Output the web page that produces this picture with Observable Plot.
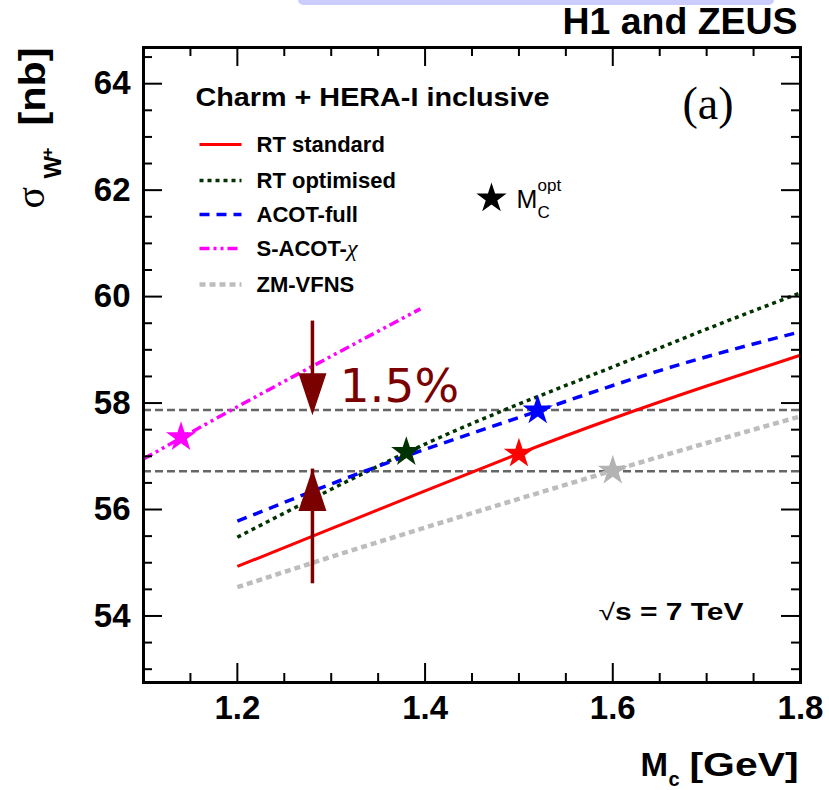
<!DOCTYPE html>
<html><head><meta charset="utf-8">
<script src="https://cdn.jsdelivr.net/npm/d3@7"></script>
<script src="https://cdn.jsdelivr.net/npm/@observablehq/plot@0.6"></script>
<style>
body{margin:0;background:#fff;}
#wrap{position:relative;width:829px;height:790px;overflow:hidden;}
#band{position:absolute;left:298px;top:0;width:476px;height:5px;background:#ccccff;border-radius:0 0 6px 6px;z-index:2;}
</style></head><body>
<div id="wrap"><div id="chart"></div><div id="band"></div></div>
<script>
// ---- data ----
const mcGrid = [1.2, 1.3, 1.4, 1.5, 1.6, 1.7, 1.8];
const rtStandard  = [54.93, 55.64, 56.35, 57.05, 57.71, 58.32, 58.90];
const rtOptimised = [55.48, 56.38, 57.23, 57.98, 58.68, 59.39, 60.07];
const acotFull    = [55.78, 56.48, 57.13, 57.73, 58.33, 58.87, 59.34];
const zmVfns      = [54.54, 55.11, 55.66, 56.20, 56.73, 57.25, 57.75];
const sacotX      = [1.1, 1.2, 1.3, 1.395];
const sacotChi    = [56.95, 57.93, 58.88, 59.77];

const seriesNames = ["RT standard", "RT optimised", "ACOT-full", "S-ACOT-χ", "ZM-VFNS"];
const optMc    = [1.50, 1.38, 1.52, 1.14, 1.60];
const optSigma = [57.05, 57.08, 57.86, 57.36, 56.73];

const bandLines = [57.87, 56.72];
const arrowX = 1.28;
const arrowFrom = [59.54, 54.98];
const arrowTo   = [57.77, 56.76];
const pctLabel = {x: 1.309, y: 58.015, text: "1.5%"};

const xLabels = [1.2, 1.4, 1.6, 1.8];
const xMajor = [1.2, 1.4, 1.6];
const xMinor = [1.15, 1.25, 1.3, 1.35, 1.45, 1.5, 1.55, 1.65, 1.7, 1.75];
const yLabels = [54, 56, 58, 60, 62, 64];
const yMajor = [54, 56, 58, 60, 62, 64];
const yMinor = [53, 53.5, 54.5, 55, 55.5, 56.5, 57, 57.5, 58.5, 59, 59.5, 60.5, 61, 61.5, 62.5, 63, 63.5, 64.5];

// ---- styles ----
const styles = {
  "RT standard":  {color: "#ff0000", width: 3,   dash: null},
  "RT optimised": {color: "#003300", width: 3.5, dash: "4,4"},
  "ACOT-full":    {color: "#0000ff", width: 3.5, dash: "10,7"},
  "S-ACOT-χ":     {color: "#ff00ff", width: 3.5, dash: "10,4,3,4,3,4"},
  "ZM-VFNS":      {color: "#bdbdbd", width: 4.5, dash: "6,4"}
};
const starColors = {"RT standard":"#ff0000","RT optimised":"#003300","ACOT-full":"#0000ff","S-ACOT-χ":"#ff00ff","ZM-VFNS":"#b3b3b3"};
const arrowColor = "#7b0000";

const W = 829, H = 790, mL = 143, mR = 29, mT = 47, mB = 108;
const fw = W - mL - mR, fh = H - mT - mB;
const sans = "Liberation Sans, Arial, Helvetica, sans-serif";
const serif = "Liberation Serif, Times New Roman, serif";

const curves = [
  {name: "RT standard", xs: mcGrid, ys: rtStandard},
  {name: "RT optimised", xs: mcGrid, ys: rtOptimised},
  {name: "ACOT-full", xs: mcGrid, ys: acotFull},
  {name: "S-ACOT-χ", xs: sacotX, ys: sacotChi},
  {name: "ZM-VFNS", xs: mcGrid, ys: zmVfns}
];
const stars = seriesNames.map((n, i) => ({name: n, x: optMc[i], y: optSigma[i]}));
const arrows = arrowFrom.map((f, i) => ({x: arrowX, from: f, to: arrowTo[i]}));

const hline = {draw(ctx) { ctx.moveTo(-21, 0); ctx.lineTo(21, 0); }};
const headDown = {draw(ctx) { ctx.moveTo(0, 0); ctx.lineTo(14, -42); ctx.lineTo(-14, -42); ctx.closePath(); }};
const headUp = {draw(ctx) { ctx.moveTo(0, 0); ctx.lineTo(14, 42); ctx.lineTo(-14, 42); ctx.closePath(); }};

const legendRowsY = [144, 180, 214, 248, 284];

const txt = (s, o) => Plot.text([s], {text: d => d, frameAnchor: "top-left", fill: "black", fontFamily: sans, ...o});

const marks = [
  // horizontal band lines
  Plot.ruleY(bandLines, {y: d => d, stroke: "#666666", strokeWidth: 2.5, strokeDasharray: "8,4"}),
  // curves
  ...curves.map(c => Plot.line(c.xs.map((x, i) => ({x, y: c.ys[i]})), {
    x: d => d.x, y: d => d.y, stroke: styles[c.name].color, strokeWidth: styles[c.name].width,
    strokeDasharray: styles[c.name].dash, strokeLinecap: "butt", strokeLinejoin: "miter", curve: "natural"
  })),
  // optimal mass stars
  Plot.dot(stars, {x: d => d.x, y: d => d.y, symbol: "star", r: 9.5, fill: d => starColors[d.name], stroke: "none"}),
  // arrows
  Plot.ruleX([arrows[0]], {x: d => d.x, y1: d => d.from, y2: d => d.to, stroke: arrowColor, strokeWidth: 3.5, insetBottom: 20}),
  Plot.ruleX([arrows[1]], {x: d => d.x, y1: d => d.from, y2: d => d.to, stroke: arrowColor, strokeWidth: 3.5, insetTop: 20}),
  Plot.dot([arrows[0]], {x: d => d.x, y: d => d.to, symbol: headDown, r: 5, fill: arrowColor, stroke: "none"}),
  Plot.dot([arrows[1]], {x: d => d.x, y: d => d.to, symbol: headUp, r: 5, fill: arrowColor, stroke: "none"}),
  Plot.text([pctLabel], {x: d => d.x, y: d => d.y, text: d => d.text, textAnchor: "start", lineAnchor: "bottom",
    fontSize: 47, fontFamily: "DejaVu Sans, sans-serif", fill: arrowColor}),
  // frame + ticks
  Plot.frame({stroke: "black", strokeWidth: 3}),
  Plot.ruleX(xMajor, {x: d => d, insetTop: fh - 19, stroke: "black", strokeWidth: 2}),
  Plot.ruleX(xMinor, {x: d => d, insetTop: fh - 9, stroke: "black", strokeWidth: 2}),
  Plot.ruleX(xMajor, {x: d => d, insetBottom: fh - 19, stroke: "black", strokeWidth: 2}),
  Plot.ruleX(xMinor, {x: d => d, insetBottom: fh - 9, stroke: "black", strokeWidth: 2}),
  Plot.ruleY(yMajor, {y: d => d, insetRight: fw - 19, stroke: "black", strokeWidth: 2}),
  Plot.ruleY(yMinor, {y: d => d, insetRight: fw - 9, stroke: "black", strokeWidth: 2}),
  Plot.ruleY(yMajor, {y: d => d, insetLeft: fw - 19, stroke: "black", strokeWidth: 2}),
  Plot.ruleY(yMinor, {y: d => d, insetLeft: fw - 9, stroke: "black", strokeWidth: 2}),
  // tick labels
  Plot.axisX({ticks: xLabels, tickSize: 0, tickPadding: 13, tickFormat: d => d.toFixed(1), fontSize: 33, fontWeight: "bold", fill: "black", label: null}),
  Plot.axisY({ticks: yLabels, tickSize: 0, tickPadding: 13, tickFormat: d => String(d), fontSize: 33, fontWeight: "bold", fill: "black", label: null}),
  // texts
  txt("H1 and ZEUS", {dx: 654, dy: -14, textAnchor: "end", lineAnchor: "bottom", fontSize: 36, fontWeight: "bold"}),
  txt("(a)", {dx: 539, dy: 71, textAnchor: "start", lineAnchor: "bottom", fontSize: 46, fontFamily: serif}),
  txt("Charm + HERA-I inclusive", {dx: 52, dy: 58, textAnchor: "start", lineAnchor: "bottom", fontSize: 25, fontWeight: "bold"}),
  txt("√s = 7 TeV", {dx: 455, dy: 572, textAnchor: "start", lineAnchor: "bottom", fontSize: 23, fontWeight: "bold"}),
  // legend
  ...seriesNames.flatMap((n, i) => [
    Plot.dot([n], {frameAnchor: "top-left", dx: 77, dy: legendRowsY[i] - mT, symbol: hline, r: 5, fill: "none",
      stroke: styles[n].color, strokeWidth: styles[n].width, strokeDasharray: styles[n].dash, strokeLinecap: "butt"}),
    txt(n, {dx: 113, dy: legendRowsY[i] - mT, textAnchor: "start", lineAnchor: "middle", fontSize: 22, fontWeight: "bold"})
  ]),
  Plot.dot(["opt"], {frameAnchor: "top-left", dx: 348, dy: 151, symbol: "star", r: 9.5, fill: "black", stroke: "none"}),
  txt("M", {dx: 373, dy: 160, textAnchor: "start", lineAnchor: "bottom", fontSize: 25}),
  txt("C", {dx: 394, dy: 170, textAnchor: "start", lineAnchor: "bottom", fontSize: 17}),
  txt("opt", {dx: 394, dy: 143, textAnchor: "start", lineAnchor: "bottom", fontSize: 17}),
  // axis titles
  txt("M", {dx: 497, dy: 728, textAnchor: "start", lineAnchor: "bottom", fontSize: 33, fontWeight: "bold"}),
  txt("c", {dx: 525, dy: 738, textAnchor: "start", lineAnchor: "bottom", fontSize: 20, fontWeight: "bold"}),
  txt("[GeV]", {dx: 546, dy: 728, textAnchor: "start", lineAnchor: "bottom", fontSize: 33, fontWeight: "bold"}),
  txt("[nb]", {dx: -99, dy: 0, rotate: -90, textAnchor: "end", lineAnchor: "bottom", fontSize: 36, fontWeight: "bold"}),
  txt("+", {dx: -91, dy: 110, rotate: -90, textAnchor: "start", lineAnchor: "bottom", fontSize: 17, fontWeight: "bold"}),
  txt("W", {dx: -83, dy: 131, rotate: -90, textAnchor: "start", lineAnchor: "bottom", fontSize: 24, fontWeight: "bold"}),
  txt("σ", {dx: -100, dy: 161, rotate: -90, textAnchor: "start", lineAnchor: "bottom", fontSize: 40, fontFamily: serif})
];

const chart = Plot.plot({
  width: W, height: H,
  marginLeft: mL, marginRight: mR, marginTop: mT, marginBottom: mB,
  x: {domain: [1.1, 1.8], label: null},
  y: {domain: [52.75, 64.68], label: null},
  style: {fontFamily: sans, background: "transparent", overflow: "visible"},
  marks
});
document.getElementById("chart").appendChild(chart);

// post-processing: exact text lengths and mixed-style runs
const allText = d3.select(chart).selectAll("text");
const byContent = s => allText.filter(function() { return this.textContent === s; });
const fit = (sel, len) => sel.attr("textLength", len).attr("lengthAdjust", "spacingAndGlyphs");
fit(byContent("Charm + HERA-I inclusive"), 354);
fit(byContent("H1 and ZEUS"), 235);
fit(byContent("[GeV]"), 109);
fit(byContent("[nb]"), 78);
byContent("√s = 7 TeV").each(function() {
  const t = d3.select(this);
  t.text(null);
  fit(t, 145);
  t.append("tspan").attr("font-weight", "normal").text("√");
  t.append("tspan").text("s = 7 TeV");
});
byContent("S-ACOT-χ").each(function() {
  const t = d3.select(this);
  t.text(null);
  t.append("tspan").text("S-ACOT-");
  t.append("tspan").attr("font-family", serif).attr("font-style", "italic").attr("font-weight", "normal").attr("font-size", 24).text("χ");
});
</script>
</body></html>
